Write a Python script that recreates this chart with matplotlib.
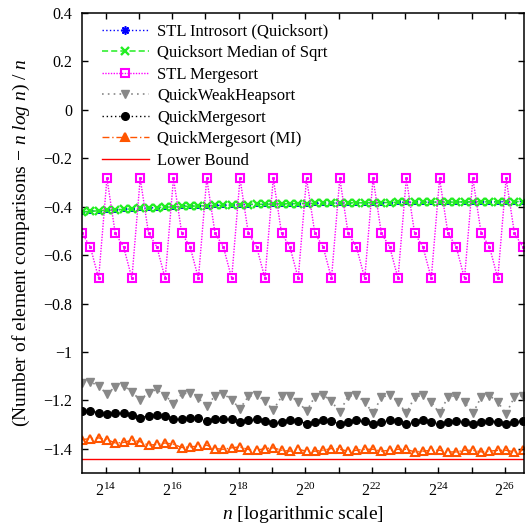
import matplotlib
matplotlib.use("Agg")
import matplotlib.pyplot as plt
from matplotlib.ticker import FixedLocator, FixedFormatter

plt.rcParams['font.family'] = ['Liberation Serif', 'DejaVu Serif']
plt.rcParams['mathtext.fontset'] = 'custom'
plt.rcParams['mathtext.rm'] = 'Liberation Serif'
plt.rcParams['mathtext.it'] = 'Liberation Serif:italic'

# input sizes n (quarter powers of two starting at 10^4)
n_values = [10000, 11892, 14142, 16818, 20000, 23784, 28284, 33636,
            40000, 47568, 56569, 67272, 80000, 95137, 113137, 134543,
            160000, 190273, 226274, 269087, 320000, 380546, 452548, 538174,
            640000, 761093, 905097, 1076347, 1280000, 1522185, 1810193, 2152695,
            2560000, 3044370, 3620387, 4305390, 5120000, 6088740, 7240773, 8610779,
            10240000, 12177481, 14481547, 17221559, 20480000, 24354962, 28963094, 34443118,
            40960000, 48709925, 57926188, 68886236, 81920000, 97419850]

# hidden under the median-of-sqrt curve in the original
stl_introsort = [-0.422, -0.419, -0.417, -0.415, -0.413, -0.411, -0.409, -0.407, -0.405, -0.404,
                 -0.402, -0.401, -0.399, -0.398, -0.397, -0.396, -0.395, -0.394, -0.393, -0.392,
                 -0.391, -0.390, -0.390, -0.389, -0.388, -0.388, -0.387, -0.387, -0.386, -0.386,
                 -0.385, -0.385, -0.384, -0.384, -0.384, -0.383, -0.383, -0.383, -0.382, -0.382,
                 -0.382, -0.382, -0.381, -0.381, -0.381, -0.381, -0.380, -0.380, -0.380, -0.380,
                 -0.380, -0.379, -0.379, -0.379]

median_sqrt = [-0.422, -0.419, -0.417, -0.415, -0.413, -0.411, -0.409, -0.407, -0.405, -0.404,
               -0.402, -0.401, -0.399, -0.398, -0.397, -0.396, -0.395, -0.394, -0.393, -0.392,
               -0.391, -0.390, -0.390, -0.389, -0.388, -0.388, -0.387, -0.387, -0.386, -0.386,
               -0.385, -0.385, -0.384, -0.384, -0.384, -0.383, -0.383, -0.383, -0.382, -0.382,
               -0.382, -0.382, -0.381, -0.381, -0.381, -0.381, -0.380, -0.380, -0.380, -0.380,
               -0.380, -0.379, -0.379, -0.379]

stl_mergesort = [-0.510, -0.566, -0.696, -0.283,
                 -0.510, -0.566, -0.696, -0.283,
                 -0.510, -0.566, -0.696, -0.283,
                 -0.510, -0.566, -0.696, -0.283,
                 -0.510, -0.566, -0.696, -0.283,
                 -0.510, -0.566, -0.696, -0.283,
                 -0.510, -0.566, -0.696, -0.283,
                 -0.510, -0.566, -0.696, -0.283,
                 -0.510, -0.566, -0.696, -0.283,
                 -0.510, -0.566, -0.696, -0.283,
                 -0.510, -0.566, -0.696, -0.283,
                 -0.510, -0.566, -0.696, -0.283,
                 -0.510, -0.566, -0.696, -0.283,
                 -0.510, -0.566]

quick_weak_heapsort = [-1.128, -1.123, -1.141, -1.174,
                       -1.144, -1.139, -1.165, -1.199,
                       -1.168, -1.155, -1.180, -1.213,
                       -1.174, -1.168, -1.192, -1.223,
                       -1.181, -1.172, -1.199, -1.234,
                       -1.184, -1.177, -1.203, -1.240,
                       -1.184, -1.180, -1.206, -1.245,
                       -1.185, -1.178, -1.204, -1.248,
                       -1.183, -1.178, -1.207, -1.254,
                       -1.186, -1.179, -1.206, -1.254,
                       -1.186, -1.179, -1.207, -1.254,
                       -1.186, -1.180, -1.207, -1.254,
                       -1.186, -1.180, -1.207, -1.255,
                       -1.186, -1.180]

quick_mergesort = [-1.243, -1.243, -1.251, -1.258,
                   -1.254, -1.254, -1.261, -1.271,
                   -1.264, -1.261, -1.265, -1.279,
                   -1.275, -1.271, -1.272, -1.286,
                   -1.279, -1.275, -1.279, -1.290,
                   -1.283, -1.279, -1.285, -1.293,
                   -1.289, -1.282, -1.285, -1.296,
                   -1.289, -1.282, -1.287, -1.296,
                   -1.289, -1.283, -1.287, -1.297,
                   -1.290, -1.283, -1.287, -1.297,
                   -1.290, -1.283, -1.288, -1.297,
                   -1.290, -1.284, -1.288, -1.298,
                   -1.290, -1.284, -1.288, -1.298,
                   -1.290, -1.284]

quick_mergesort_mi = [-1.362, -1.358, -1.355, -1.362,
                      -1.376, -1.374, -1.364, -1.371,
                      -1.385, -1.382, -1.376, -1.381,
                      -1.395, -1.392, -1.389, -1.385,
                      -1.399, -1.402, -1.396, -1.392,
                      -1.403, -1.406, -1.399, -1.396,
                      -1.406, -1.410, -1.402, -1.410,
                      -1.410, -1.406, -1.399, -1.402,
                      -1.410, -1.406, -1.402, -1.402,
                      -1.410, -1.406, -1.402, -1.402,
                      -1.413, -1.410, -1.406, -1.406,
                      -1.413, -1.413, -1.406, -1.406,
                      -1.413, -1.410, -1.406, -1.406,
                      -1.413, -1.406]

lower_bound = -1.4427

y_ticks = [0.4, 0.2, 0.0, -0.2, -0.4, -0.6, -0.8, -1.0, -1.2, -1.4]
y_labels = ["0.4", "0.2", "0", "\u22120.2", "\u22120.4", "\u22120.6", "\u22120.8",
            "\u22121", "\u22121.2", "\u22121.4"]
x_exponents = [14, 15, 16, 17, 18, 19, 20, 21, 22, 23, 24, 25, 26]

fig = plt.figure(figsize=(5.25, 5.27), dpi=100)
ax = fig.add_axes([82 / 525, 1 - 473 / 527, 442 / 525, 460 / 527])

ax.plot(n_values, stl_introsort, color='#0000ff', ls=':', lw=1, marker=(8, 2, 0),
        ms=3.5, mew=1.2, label='STL Introsort (Quicksort)')
ax.plot(n_values, median_sqrt, color='#22ee22', ls=(0, (4, 2)), lw=1.1, marker='x',
        ms=5.5, mew=1.7, label='Quicksort Median of Sqrt')
ax.plot(n_values, stl_mergesort, color='#ff00ff', ls=(0, (1, 1)), lw=1, marker='s',
        ms=6, mew=1.5, mfc='none', label='STL Mergesort')
ax.plot(n_values, stl_mergesort, color='#ff00ff', ls='none', marker='s', ms=1.2)
ax.plot(n_values, quick_weak_heapsort, color='#888888', ls=(0, (1, 2.5)), lw=1.2, marker='v',
        ms=6, label='QuickWeakHeapsort')
ax.plot(n_values, quick_mergesort, color='black', ls=(0, (1, 2)), lw=1, marker='o',
        ms=5.5, label='QuickMergesort')
ax.plot(n_values, quick_mergesort_mi, color='#ff5500', ls=(0, (5, 2, 1, 2)), lw=1, marker='^',
        ms=6, mew=1.5, mfc='none', label='QuickMergesort (MI)')
ax.axhline(lower_bound, color='#ff0000', lw=1, label='Lower Bound')

ax.set_xscale('log', base=2)
ax.set_xlim(1e4, 1e8)
ax.set_ylim(-1.5, 0.4)

ax.xaxis.set_major_locator(FixedLocator([2.0 ** k for k in x_exponents]))
ax.xaxis.set_major_formatter(FixedFormatter(
    ["$2^{%d}$" % k if k % 2 == 0 else "" for k in x_exponents]))
ax.xaxis.set_minor_locator(FixedLocator([]))
ax.yaxis.set_major_locator(FixedLocator(y_ticks))
ax.yaxis.set_major_formatter(FixedFormatter(y_labels))

ax.tick_params(which='both', direction='in', top=True, right=True,
               length=4.5, width=1, labelsize=11.5)
ax.tick_params(axis='x', pad=7)
ax.tick_params(axis='y', pad=7)
for s in ax.spines.values():
    s.set_linewidth(1.1)

ax.set_xlabel(r"$n$ [logarithmic scale]", fontsize=14, labelpad=3)
ax.set_ylabel("(Number of element comparisons \u2212 $n\\ log\\ n$) / $n$",
              fontsize=14, labelpad=8)

leg = ax.legend(loc='upper left', bbox_to_anchor=(0.045, 0.977), frameon=False,
                fontsize=12, handlelength=2.8, handletextpad=0.5, labelspacing=0.33,
                borderpad=0, borderaxespad=0)
# legend keys: bigger asterisk, filled triangle, as in the original key
handles = leg.legend_handles
handles[0].set_markersize(6)
handles[5].set_markerfacecolor('#ff5500')

fig.savefig("out.png", dpi=100)
